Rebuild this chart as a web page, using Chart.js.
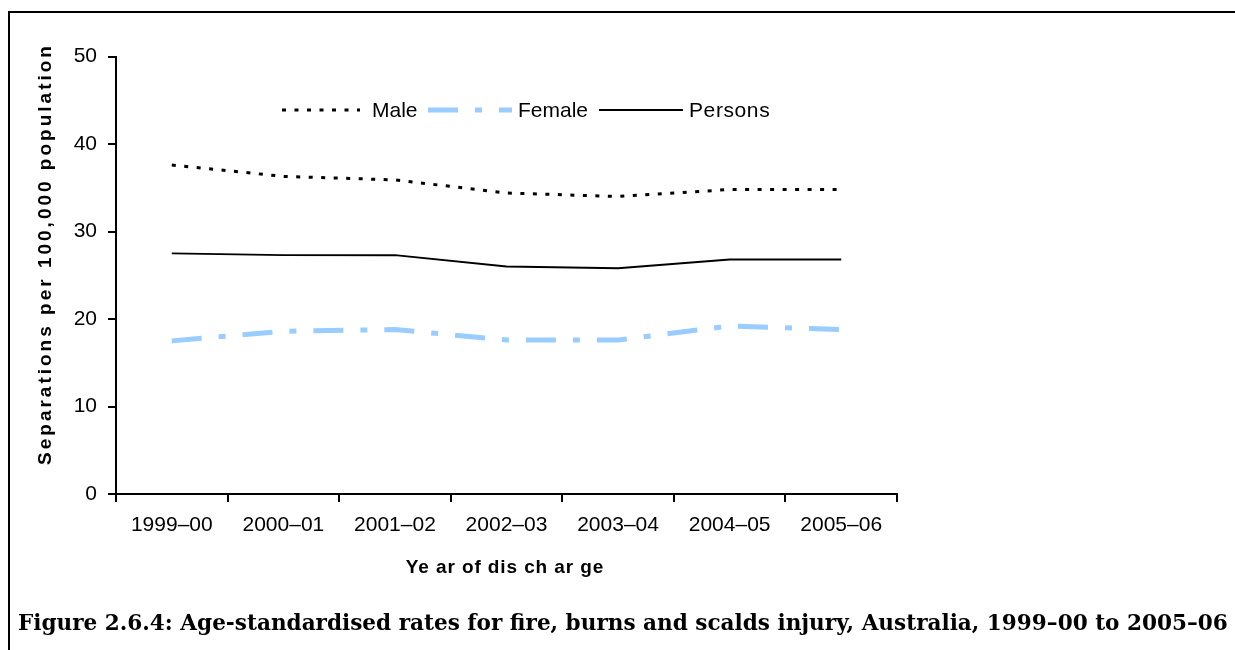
<!DOCTYPE html>
<html>
<head>
<meta charset="utf-8">
<script src="https://cdn.jsdelivr.net/npm/chart.js@4.4.1/dist/chart.umd.min.js"></script>
<style>
  html, body { margin: 0; padding: 0; background: #fff; }
  body { width: 1235px; height: 650px; position: relative; overflow: hidden; font-family: "Liberation Sans", Arial, sans-serif; }
  #wrap { position: absolute; left: 0; top: 0; width: 1235px; height: 650px; }
  .frame-top { position: absolute; left: 8px; top: 11px; width: 1227px; height: 2px; background: #000; }
  .frame-left { position: absolute; left: 8px; top: 11px; width: 2px; height: 639px; background: #000; }
  .ytitle { position: absolute; left: 45px; top: 254px; transform: translate(-50%, -50%) rotate(-90deg); font-weight: bold; font-size: 19px; letter-spacing: 3px; white-space: nowrap; color: #000; }
  .xtitle { position: absolute; left: 505px; top: 567px; transform: translate(-50%, -50%); font-weight: bold; font-size: 19px; letter-spacing: 0.9px; white-space: nowrap; color: #000; }
  .caption { position: absolute; left: 18px; top: 622px; transform: translateY(-50%); font-family: "DejaVu Serif", "Liberation Serif", serif; font-weight: bold; font-size: 21px; white-space: nowrap; color: #000; }
  .legend { position: absolute; left: 0; top: 0; width: 1235px; height: 650px; pointer-events: none; }
  .lg-text { position: absolute; top: 110px; transform: translateY(-50%); font-size: 21px; white-space: nowrap; color: #000; }
</style>
</head>
<body>
<div id="wrap"><canvas id="c" width="1235" height="650"></canvas></div>
<div class="frame-top"></div>
<div class="frame-left"></div>
<svg class="legend" width="1235" height="650">
  <line x1="282" y1="110" x2="360" y2="110" stroke="#000" stroke-width="3" stroke-dasharray="4 8.5"/>
  <line x1="428" y1="110" x2="512" y2="110" stroke="#99CCFF" stroke-width="5" stroke-dasharray="30 17 7 17"/>
  <line x1="599" y1="110" x2="683" y2="110" stroke="#000" stroke-width="2"/>
</svg>
<div class="lg-text" style="left:372px">Male</div>
<div class="lg-text" style="left:518px">Female</div>
<div class="lg-text" style="left:689px; letter-spacing:0.6px">Persons</div>
<div class="ytitle">Separations per 100,000 population</div>
<div class="xtitle">Ye ar of dis ch ar ge</div>
<div class="caption" id="cap">Figure 2.6.4: Age-standardised rates for fire, burns and scalds injury, Australia, 1999–00 to 2005–06</div>
<script>
const categories = ["1999–00", "2000–01", "2001–02", "2002–03", "2003–04", "2004–05", "2005–06"];
const maleValues = [37.6, 36.3, 35.9, 34.4, 34.0, 34.8, 34.8];
const femaleValues = [17.5, 18.6, 18.8, 17.6, 17.6, 19.2, 18.8];
const personsValues = [27.5, 27.3, 27.3, 26.0, 25.8, 26.8, 26.8];
const yTicks = [0, 10, 20, 30, 40, 50];

// fit caption width to the reference extent
(function () {
  const cap = document.getElementById('cap');
  const target = 1210;
  const w = cap.getBoundingClientRect().width;
  if (w > 0) cap.style.fontSize = (21 * target / w).toFixed(2) + 'px';
})();

new Chart(document.getElementById('c'), {
  type: 'line',
  data: {
    labels: categories,
    datasets: [
      { label: 'Male', data: maleValues, borderColor: '#000', borderWidth: 3, borderDash: [4, 8.5], pointRadius: 0, tension: 0, fill: false },
      { label: 'Female', data: femaleValues, borderColor: '#99CCFF', borderWidth: 5, borderDash: [30, 17, 7, 17], pointRadius: 0, tension: 0, fill: false },
      { label: 'Persons', data: personsValues, borderColor: '#000', borderWidth: 2, pointRadius: 0, tension: 0, fill: false }
    ]
  },
  options: {
    responsive: false,
    animation: false,
    devicePixelRatio: 1,
    layout: { padding: { left: 0, top: 56.5, right: 338, bottom: 96 } },
    plugins: { legend: { display: false }, tooltip: { enabled: false }, title: { display: false } },
    scales: {
      x: {
        type: 'category',
        offset: true,
        grid: { display: true, drawOnChartArea: false, drawTicks: true, tickLength: 8, offset: true, color: '#000', lineWidth: 2 },
        border: { display: true, color: '#000', width: 2 },
        ticks: { color: '#000', font: { family: 'Liberation Sans', size: 21 }, padding: 11, maxRotation: 0, autoSkip: false },
        afterFit: (s) => { s.height = 60; }
      },
      y: {
        min: 0, max: 50,
        afterBuildTicks: (s) => { s.ticks = yTicks.map(v => ({ value: v })); },
        grid: { display: true, drawOnChartArea: false, drawTicks: true, tickLength: 8, color: '#000', lineWidth: 2 },
        border: { display: true, color: '#000', width: 2 },
        ticks: { color: '#000', font: { family: 'Liberation Sans', size: 21 }, padding: 11 },
        afterFit: (s) => { s.width = 116; }
      }
    }
  }
});
</script>
</body>
</html>
